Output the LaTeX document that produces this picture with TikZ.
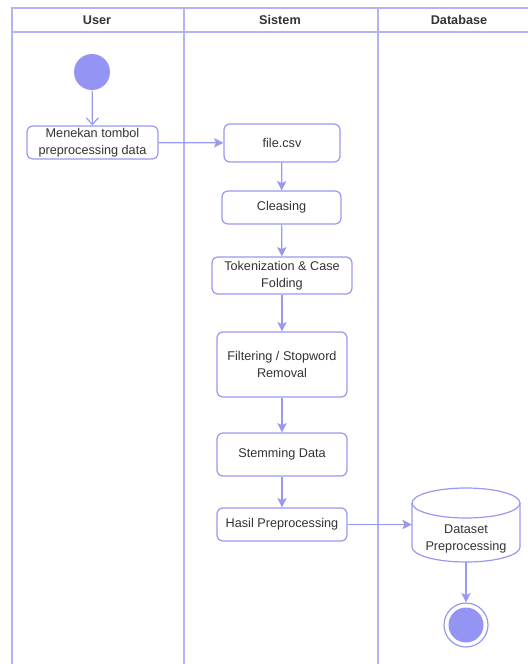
\documentclass[tikz,border=0pt]{standalone}
\usepackage{fontspec}
\setmainfont{Liberation Sans}
\usetikzlibrary{arrows.meta}
\definecolor{lane}{HTML}{B4B4F5}
\definecolor{edge}{HTML}{9898F2}
\definecolor{dot}{HTML}{9494F4}
\definecolor{ink}{HTML}{333333}
\tikzset{
  act/.style={draw=edge, line width=0.9pt, rounded corners=4.5pt, fill=white,
    text=ink, font=\fontsize{9.5}{12.5}\selectfont, align=center, inner sep=0pt},
  flow/.style={draw=edge, line width=0.9pt, -{Stealth[length=7pt,width=7pt,inset=1.5pt]}},
  hdr/.style={text=ink, font=\fontsize{9.5}{11.5}\selectfont\bfseries},
  outline/.style={draw=edge, line width=0.9pt},
}
\begin{document}
\begin{tikzpicture}[x=0.75pt, y=-0.75pt]
\useasboundingbox (0,0) rectangle (528,664);
% swimlanes
\draw[lane, line width=1.2pt] (12,664) -- (12,8) -- (530,8);
\draw[lane, line width=1.2pt] (12,32) -- (530,32);
\draw[lane, line width=1.2pt] (184,8) -- (184,664);
\draw[lane, line width=1.2pt] (378,8) -- (378,664);
\node[hdr] (hUser) at (97,20) {User};
\node[hdr] (hSys) at (280,20) {Sistem};
\node[hdr] (hDb) at (459,20) {Database};
% start
\node[circle, fill=dot, minimum size=36*0.75pt, inner sep=0pt] (start) at (92,72) {};
% activities
\node[act, minimum width=131*0.75pt, minimum height=33*0.75pt] (press) at (92.5,142.5) {Menekan tombol\\preprocessing data};
\node[act, minimum width=116*0.75pt, minimum height=38*0.75pt] (csv) at (282,143) {file.csv};
\node[act, minimum width=119*0.75pt, minimum height=33*0.75pt] (clean) at (281.5,207.5) {Cleasing};
\node[act, minimum width=140*0.75pt, minimum height=37*0.75pt] (token) at (282,275.5) {Tokenization \& Case\\Folding};
\node[act, minimum width=130*0.75pt, minimum height=65*0.75pt] (filter) at (282,364.5) {Filtering / Stopword\\Removal};
\node[act, minimum width=130*0.75pt, minimum height=43*0.75pt] (stem) at (282,454.5) {Stemming Data};
\node[act, minimum width=130*0.75pt, minimum height=33*0.75pt] (hasil) at (282,524.5) {Hasil Preprocessing};
% database cylinder: a frame node for anchors, outline drawn by hand
\node[minimum width=108*0.75pt, minimum height=74*0.75pt, inner sep=0pt] (db) at (466,525) {};
\fill[white] (412,503) -- (412,547) arc[start angle=180, end angle=0, x radius=54, y radius=15]
  -- (520,503) arc[start angle=0, end angle=180, x radius=54, y radius=15] -- cycle;
\draw[outline] (412,503) -- (412,547) arc[start angle=180, end angle=0, x radius=54, y radius=15] -- (520,503);
\draw[outline] (466,503) ellipse[x radius=54, y radius=15];
\node[text=ink, font=\fontsize{9.5}{12.5}\selectfont, align=center] (dbtext) at (466,539) {Dataset\\Preprocessing};
% end
\node[circle, draw=edge, line width=0.9pt, fill=white, minimum size=44*0.75pt, inner sep=0pt] (finish) at (466,625) {};
\node[circle, fill=dot, minimum size=35*0.75pt, inner sep=0pt] (finishdot) at (finish) {};
% connectors
\draw[draw=edge, line width=0.9pt, -{Straight Barb[length=5pt,width=9pt]}] (start) -- (press);
\draw[flow] (press) -- (csv);
\draw[flow] (csv) -- (clean);
\draw[flow] (clean) -- (token);
\draw[flow] (token) -- (filter);
\draw[flow] (filter) -- (stem);
\draw[flow] (stem) -- (hasil);
\draw[flow] (hasil) -- (db.west |- hasil.east);
\draw[flow] (db.south) -- (finish);
\end{tikzpicture}
\end{document}
